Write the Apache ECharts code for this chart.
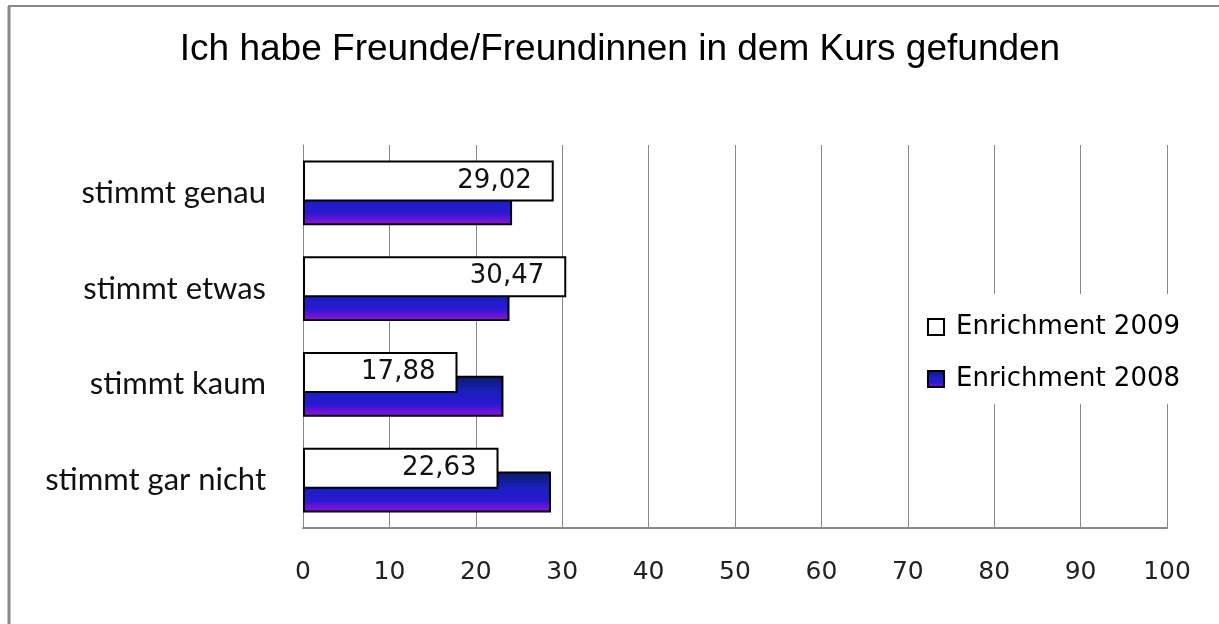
<!DOCTYPE html>
<html>
<head>
<meta charset="utf-8">
<script src="https://cdn.jsdelivr.net/npm/echarts@6/dist/echarts.min.js"></script>
<style>
  html, body { margin: 0; padding: 0; background: #fff; }
  #chart { width: 1219px; height: 624px; }
</style>
</head>
<body>
<div id="chart"></div>
<script>
// data
var categories = ['stimmt genau', 'stimmt etwas', 'stimmt kaum', 'stimmt gar nicht'];
var values2009 = [29.02, 30.47, 17.88, 22.63];
var values2008 = [24.2, 23.9, 23.2, 28.7];
var seriesNames = ['Enrichment 2009', 'Enrichment 2008'];
var xTicks = [0, 100, 10]; // min, max, interval

var myChart = echarts.init(document.getElementById('chart'));

// blue -> purple fill like the old office chart
var blueFill = new echarts.graphic.LinearGradient(0, 0, 0, 1, [
    { offset: 0, color: '#0a1c66' },
    { offset: 0.4, color: '#1820c0' },
    { offset: 0.7, color: '#2a18d0' },
    { offset: 1, color: '#a010e0' }
]);

var option = {
    backgroundColor: '#fff',
    animation: false,
    title: {
        text: 'Ich habe Freunde/Freundinnen in dem Kurs gefunden',
        left: 615,
        textAlign: 'center',
        top: 26,
        textStyle: {
            fontFamily: 'Liberation Sans',
            fontSize: 37,
            fontWeight: 'normal',
            color: '#000'
        }
    },
    // frame of the chart area, cut at right and bottom
    graphic: [
        { type: 'line', shape: { x1: 9, y1: 6, x2: 9, y2: 624 }, style: { stroke: '#888', lineWidth: 3 } },
        { type: 'line', shape: { x1: 8, y1: 6, x2: 1219, y2: 6 }, style: { stroke: '#888', lineWidth: 2 } }
    ],
    legend: {
        orient: 'vertical',
        left: 913,
        top: 294,
        padding: [20, 10, 12, 14],
        backgroundColor: '#fff',
        itemWidth: 16,
        itemHeight: 16,
        itemGap: 26,
        icon: 'rect',
        data: seriesNames,
        textStyle: {
            fontFamily: 'DejaVu Sans',
            fontSize: 26,
            color: '#000',
            padding: [0, 0, 0, 7]
        },
        z: 10
    },
    grid: {
        left: 303,
        right: 52,
        top: 145,
        bottom: 96,
        containLabel: false
    },
    xAxis: {
        type: 'value',
        min: xTicks[0],
        max: xTicks[1],
        interval: xTicks[2],
        axisLine: { show: true, lineStyle: { color: '#888', width: 2 } },
        axisTick: { show: false },
        splitLine: { show: true, lineStyle: { color: '#888', width: 1 } },
        axisLabel: {
            margin: 32,
            fontFamily: 'DejaVu Sans',
            fontSize: 25,
            color: '#222'
        }
    },
    yAxis: {
        type: 'category',
        inverse: true,
        data: categories,
        axisLine: { show: true, lineStyle: { color: '#888', width: 1 } },
        axisTick: { show: false },
        axisLabel: {
            margin: 37,
            fontFamily: 'Lato',
            fontSize: 31,
            color: '#111'
        }
    },
    series: [
        {
            name: seriesNames[0],
            type: 'bar',
            data: values2009,
            barWidth: 41,
            barGap: '-41.5%',
            z: 3,
            itemStyle: { color: '#fff', borderColor: '#000', borderWidth: 2 },
            label: {
                show: true,
                position: 'insideRight',
                distance: 22,
                fontFamily: 'DejaVu Sans',
                fontSize: 26,
                color: '#111',
                formatter: function (p) {
                    return p.value.toFixed(2).replace('.', ',');
                }
            }
        },
        {
            name: seriesNames[1],
            type: 'bar',
            data: values2008,
            barWidth: 41,
            barGap: '-41.5%',
            z: 2,
            itemStyle: { color: blueFill, borderColor: '#000', borderWidth: 2 }
        }
    ]
};

myChart.setOption(option);
</script>
</body>
</html>
